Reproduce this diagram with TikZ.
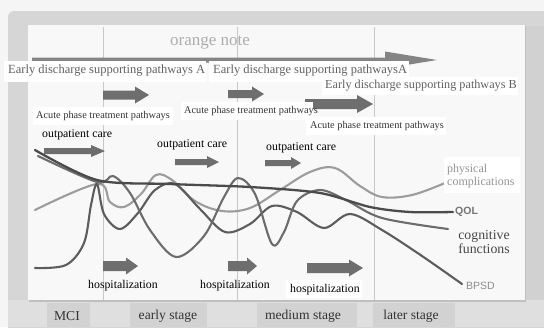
\documentclass[tikz,border=0pt]{standalone}
\usepackage{fontspec}
\setmainfont{Liberation Serif}
\setsansfont{Liberation Sans}
\begin{document}
\definecolor{framegray}{HTML}{D6D6D6}
\definecolor{bandgray}{HTML}{DFDFDF}
\definecolor{tabgray}{HTML}{D2D2D2}
\definecolor{panelwhite}{HTML}{F8F8F8}
\definecolor{arrowfill}{HTML}{6E6E6E}
\definecolor{divider}{HTML}{C8C8C8}
\definecolor{qolcol}{HTML}{4B4B4B}
\definecolor{cogcol}{HTML}{6C6C6C}
\definecolor{physcol}{HTML}{9C9C9C}
\definecolor{bpsdcol}{HTML}{5C5C5C}
\tikzset{
  fs/.style={font=\rmfamily\fontsize{#1}{#1}\selectfont},
  sfs/.style={font=\sffamily\fontsize{#1}{#1}\selectfont},
  path lbl/.style={fs=12.5, text=black!62, inner sep=0pt, anchor=west},
  acute lbl/.style={fs=10.3, text=black!80, inner sep=0pt, anchor=west},
  care lbl/.style={fs=11.8, text=black, inner sep=0pt, anchor=west},
  stage lbl/.style={fs=13.6, text=black!80, inner sep=0pt},
  whitebox/.style={fill=white, draw=none},
  curve/.style={line width=2.1pt, line cap=round, line join=round},
  pics/blockarrow/.style args={#1/#2/#3/#4}{code={
    \fill[arrowfill] (0,{-#2/2}) -- ({#1-#4},{-#2/2}) -- ({#1-#4},{-#3/2})
      -- (#1,0) -- ({#1-#4},{#3/2}) -- ({#1-#4},{#2/2}) -- (0,{#2/2}) -- cycle;
  }}
}
\begin{tikzpicture}[x=1pt,y=-1pt]
\useasboundingbox (0,0) rectangle (544,327);
% backdrop and window frame
\fill[black!4] (0,0) rectangle (544,327);
\fill[framegray, rounded corners=6pt] (8,11) rectangle (560,340);
\fill[bandgray] (8,300) rectangle (544,327);
\fill[black!18] (525,26) rectangle (544,300);
% main panel
\fill[black!25] (29,26) rectangle (526,302);
\fill[panelwhite] (28,25) rectangle (525,300);
% stage tabs
\fill[tabgray] (47,303) rectangle (90,327);
\fill[tabgray] (130,303) rectangle (207,327);
\fill[tabgray] (257,303) rectangle (357,327);
\fill[tabgray] (373,303) rectangle (455,327);
\node[stage lbl] (mci) at (67,316) {MCI};
\node[stage lbl] (early) at (168,316) {early stage};
\node[stage lbl] (medium) at (303,316) {medium stage};
\node[stage lbl] (later) at (411,316) {later stage};
% stage dividers
\foreach \xx in {103,237,374}
  \draw[divider, line width=0.7pt] (\xx,27) -- (\xx,300);
% long arrow across the top
\fill[arrowfill!85] (32,57.5) -- (385,57.5) -- (385,51.5) -- (437,60) -- (385,68.5) -- (385,62.5) -- (32,62.5) -- cycle;
\node[fs=17, text=black!32] (note) at (210,43) {orange note};
% early discharge labels
\fill[whitebox] (4,61) rectangle (206,82);
\node[path lbl] (edA) at (8,71) {Early discharge supporting pathways A};
\fill[whitebox] (209,61) rectangle (409,82);
\node[path lbl] (edA2) at (213,71) {Early discharge supporting pathwaysA};
% block arrows, early discharge row
\pic at (103,95) {blockarrow=46/9/17/14};
\pic at (228,94) {blockarrow=36/8/15/12};
\fill[whitebox] (322,77) rectangle (518,95);
\node[path lbl, fs=12.2] (edB) at (325,86) {Early discharge supporting pathways B};
\pic at (305,104) {blockarrow=68/10/18/16};
% acute phase labels
\fill[whitebox] (33,107) rectangle (173,125);
\node[acute lbl] (ac1) at (36,116) {Acute phase treatment pathways};
\fill[whitebox] (181,102) rectangle (313,120);
\node[acute lbl] (ac2) at (184,111) {Acute phase treatment pathways};
\fill[whitebox] (306,117) rectangle (446,135);
\node[acute lbl] (ac3) at (310,126) {Acute phase treatment pathways};
% outpatient care
\node[care lbl] (op1) at (42,135) {outpatient care};
\node[care lbl] (op2) at (157,145) {outpatient care};
\node[care lbl] (op3) at (266,148) {outpatient care};
\pic at (44,151) {blockarrow=61/6/12/14};
\pic at (175,162) {blockarrow=44/6/12/12};
\pic at (265,163) {blockarrow=36/6/12/10};
% hospitalization
\pic at (103,266) {blockarrow=35/10/17/12};
\pic at (228,266) {blockarrow=29/10/17/10};
\pic at (307,268) {blockarrow=56/10/17/14};
\node[care lbl] (h1) at (88,286) {hospitalization};
\node[care lbl] (h2) at (200,286) {hospitalization};
\fill[whitebox] (286,280) rectangle (362,298);
\node[care lbl] (h3) at (290,290) {hospitalization};
% trend curves
\draw[curve, physcol] plot[smooth, tension=0.6] coordinates {
  (35,210) (97,184) (110,202) (124,207) (141,194) (156,175) (172,180)
  (195,201) (222,211) (250,208) (280,190) (310,172) (335,168) (360,186)
  (382,197) (412,195) (445,183)};
\draw[curve, bpsdcol] plot[smooth, tension=0.55] coordinates {
  (35,268) (66,265) (84,243) (91,205) (97,184) (104,214) (120,229)
  (138,213) (155,190) (175,184) (200,209) (225,232) (250,224) (272,206)
  (297,212) (324,228) (350,214) (382,230) (422,256) (462,284)};
\draw[curve, cogcol] plot[smooth, tension=0.55] coordinates {
  (38,156) (97,182) (113,176) (130,193) (150,230) (176,257) (204,236)
  (224,197) (238,178) (255,194) (272,244) (284,232) (297,201) (320,190)
  (346,200) (382,218) (448,229)};
\draw[curve, qolcol, line width=2.3pt] plot[smooth, tension=0.5] coordinates {
  (35,150) (97,180) (170,184) (250,187) (320,193) (370,207) (410,212) (453,212)};
% curve labels
\fill[whitebox] (444,157) rectangle (520,193);
\node[fs=12, text=black!42, inner sep=0pt, anchor=west, align=left] (phys) at (447,176)
  {physical\\[1pt]complications};
\node[font=\sffamily\bfseries\fontsize{10.5}{10.5}\selectfont, text=black!55, inner sep=0pt, anchor=west] (qol) at (455,212) {QOL};
\node[fs=13.8, text=black!72, inner sep=0pt, align=center] (cog) at (484,242)
  {cognitive\\[1pt]functions};
\node[sfs=10.5, text=black!45, inner sep=0pt, anchor=west] (bpsd) at (466,286) {BPSD};
\end{tikzpicture}
\end{document}
